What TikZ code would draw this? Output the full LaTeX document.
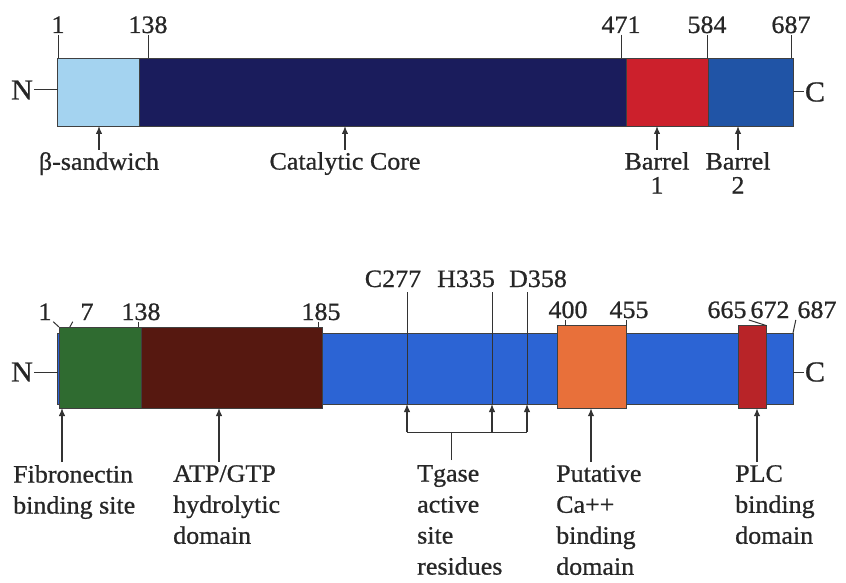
\documentclass[tikz,border=0pt]{standalone}
\usepackage{fontspec}
\setmainfont{Liberation Serif}[FakeStretch=1.04, FakeBold=0.8]
\usetikzlibrary{arrows.meta,positioning}
\definecolor{sandw}{RGB}{164,211,240}
\definecolor{coreblue}{RGB}{26,28,92}
\definecolor{brlred}{RGB}{204,32,44}
\definecolor{brlblue}{RGB}{32,84,166}
\definecolor{chainblue}{RGB}{44,100,212}
\definecolor{fibgreen}{RGB}{47,107,48}
\definecolor{atpbrown}{RGB}{86,24,16}
\definecolor{caorange}{RGB}{232,112,58}
\definecolor{plcred}{RGB}{184,36,40}

\begin{document}
\begin{tikzpicture}[x=1pt, y=-1pt,
  seg/.style={draw=black!75, line width=0.8pt, fill=#1, inner sep=0pt,
              outer sep=0pt, anchor=north west},
  num/.style={font=\fontsize{25}{30}\selectfont, text=black!85, anchor=base, inner sep=1.5pt},
  tlbl/.style={font=\fontsize{25}{24}\selectfont, text=black!85, align=center,
               anchor=north, inner sep=2pt},
  blbl/.style={font=\fontsize{25}{31}\selectfont, text=black!85, align=left,
               anchor=north west, inner sep=0pt},
  term/.style={font=\fontsize{29}{30}\selectfont, text=black!85, inner sep=1pt},
  tk/.style={line width=1pt, black!80},
  ar/.style={line width=1.2pt, black!80, -{Latex[length=8pt,width=6.5pt]}},
]
\useasboundingbox (0,0) rectangle (846,583);

% top: domain structure
\node[seg=sandw,     minimum width=82,    minimum height=67.5] (bsw)  at (57.5,58.5) {};
\node[seg=coreblue,  minimum width=486.5, minimum height=67.5] (core) at (139.5,58.5) {};
\node[seg=brlred,    minimum width=82,    minimum height=67.5] (br1)  at (626,58.5) {};
\node[seg=brlblue,   minimum width=85,    minimum height=67.5] (br2)  at (708,58.5) {};

\node[num] (p1)   at (58,33)  {1};
\node[num] (p138) at (148,33) {138};
\node[num] (p471) at (621,33) {471};
\node[num] (p584) at (707,33) {584};
\node[num] (p687) at (791,33) {687};
\foreach \p/\s in {p1/bsw, p138/core, p471/br1, p584/br2, p687/br2}
  \draw[tk] (\p.south) -- (\p.south |- \s.north);

\node[term] (nt) at (22,90) {N};
\node[term] (ct) at (815,92) {C};
\draw[tk] (nt.east) -- (nt.east -| bsw.west);
\draw[tk] (ct.west) -- (ct.west -| br2.east);

\node[tlbl] (lsw)  at (99,150)  {β-sandwich};
\node[tlbl] (lcc)  at (345,150) {Catalytic Core};
\node[tlbl] (lb1)  at (657,150) {Barrel\\1};
\node[tlbl] (lb2)  at (738,150) {Barrel\\2};
\foreach \l/\s in {lsw/bsw, lcc/core, lb1/br1, lb2/br2}
  \draw[ar] (\l.north) -- (\l.north |- \s.south);

% bottom: functional sites
\node[seg=chainblue, minimum width=735.5, minimum height=71]   (chain) at (57.5,333) {};
\node[seg=fibgreen,  minimum width=82.5,  minimum height=81]   (fn)    at (59,327) {};
\node[seg=atpbrown,  minimum width=181,   minimum height=81]   (atp)   at (141.5,327) {};
\node[seg=caorange,  minimum width=69,    minimum height=82.5] (ca)    at (557.7,325.7) {};
\node[seg=plcred,    minimum width=28.4,  minimum height=82.5] (plc)   at (738.3,325.7) {};

\node[num] (q1)   at (45,320)  {1};
\node[num] (q7)   at (87,320)  {7};
\node[num] (q138) at (141,320) {138};
\node[num] (q185) at (321,320) {185};
\node[num] (q400) at (568,318) {400};
\node[num] (q455) at (629,318) {455};
\node[num] (q665) at (727,318) {665};
\node[num] (q672) at (770,318) {672};
\node[num] (q687) at (817,318) {687};
\draw[tk] (q1.south east) -- (fn.north west);
\draw[tk] ([xshift=-6pt]q7.south west) -- ([xshift=-9pt]q7.south west |- fn.north);
\foreach \p/\s in {q138/fn, q185/atp, q400/ca, q455/ca}
  \draw[tk] ([xshift=-3pt]\p.south) -- ([xshift=-3pt]\p.south |- \s.north);
\draw[tk] (q672.south west) -- (plc.north east);
\draw[tk] (q687.south west) -- (chain.north east);

\node[term] (nb) at (22,372) {N};
\node[term] (cb) at (815,372) {C};
\draw[tk] (nb.east) -- (nb.east -| chain.west);
\draw[tk] (cb.west) -- (cb.west -| chain.east);

% active site residues
\node[num] (rc) at (393,287) {C277};
\node[num] (rh) at (466,287) {H335};
\node[num] (rd) at (538,287) {D358};
\coordinate (rC) at (407,292);
\coordinate (rH) at (492,292);
\coordinate (rD) at (527,292);
\coordinate (tg)  at (451,432);
\coordinate (tgA) at (451,460);
\foreach \r in {rC, rH, rD} {
  \draw[tk] (\r) -- (\r |- chain.south);
  \draw[ar] (\r |- tg) -- (\r |- chain.south);
}
\draw[tk] (rC |- tg) -- (rD |- tg);
\draw[tk] (tgA) -- (tg);

\coordinate (fnA)  at (62,462);
\coordinate (atpA) at (219,462);
\coordinate (caA)  at (591,462);
\coordinate (plcA) at (757,462);
\draw[ar] (fnA)  -- (fnA |- fn.south);
\draw[ar] (atpA) -- (atpA |- atp.south);
\draw[ar] (caA)  -- (caA |- ca.south);
\draw[ar] (plcA) -- (plcA |- plc.south);

\node[blbl] (lfn)  at (13,465)  {Fibronectin\\binding site};
\node[blbl] (latp) at (173,465) {ATP/GTP\\hydrolytic\\domain};
\node[blbl] (ltg)  at (417,465) {Tgase\\active\\site\\residues};
\node[blbl] (lca)  at (556,465) {Putative\\Ca++\\binding\\domain};
\node[blbl] (lplc) at (735,465) {PLC\\binding\\domain};
\end{tikzpicture}
\end{document}
